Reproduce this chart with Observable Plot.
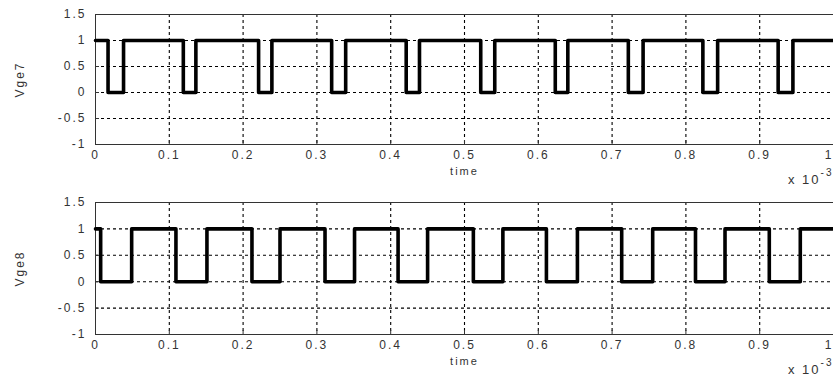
<!DOCTYPE html>
<html>
<head>
<meta charset="utf-8">
<script src="https://cdn.jsdelivr.net/npm/d3@7"></script>
<script src="https://cdn.jsdelivr.net/npm/@observablehq/plot@0.6"></script>
<style>
  html, body { margin: 0; padding: 0; background: #fff; }
  #wrap { width: 833px; height: 377px; overflow: hidden; }
  svg { display: block; }
</style>
</head>
<body>
<div id="wrap"></div>
<script>
// Transition times (x 10^-3 s) and levels for each gate signal
const t7 = [0, 0.017, 0.038, 0.119, 0.136, 0.221, 0.239, 0.320, 0.339, 0.421, 0.439, 0.522, 0.541, 0.623, 0.640, 0.722, 0.742, 0.823, 0.843, 0.925, 0.945, 1];
const v7 = [1, 0, 1, 0, 1, 0, 1, 0, 1, 0, 1, 0, 1, 0, 1, 0, 1, 0, 1, 0, 1, 1];
const t8 = [0, 0.007, 0.049, 0.109, 0.151, 0.212, 0.250, 0.311, 0.351, 0.410, 0.450, 0.512, 0.552, 0.611, 0.653, 0.713, 0.755, 0.813, 0.853, 0.913, 0.955, 1];
const v8 = [1, 0, 1, 0, 1, 0, 1, 0, 1, 0, 1, 0, 1, 0, 1, 0, 1, 0, 1, 0, 1, 1];

const xTicks = [0, 0.1, 0.2, 0.3, 0.4, 0.5, 0.6, 0.7, 0.8, 0.9];
const xLastTick = [1];
const xGrid = [0.1, 0.2, 0.3, 0.4, 0.5, 0.6, 0.7, 0.8, 0.9];
const yTicks = [-1, -0.5, 0, 0.5, 1, 1.5];
const yGrid = [-0.5, 0, 0.5, 1];
const xLabel = "time";
const expLabel = "x 10";
const expPower = "-3";
const panels = [
  {name: "Vge7", t: t7, v: v7, height: 188, marginBottom: 44},
  {name: "Vge8", t: t8, v: v8, height: 189, marginBottom: 43}
];

const font = "'Liberation Sans', Arial, sans-serif";
const fmt = d => String(d);
const wrap = document.getElementById("wrap");

for (const p of panels) {
  const data = p.t.map((t, i) => ({t, v: p.v[i]}));
  const chart = Plot.plot({
    width: 833,
    height: p.height,
    marginLeft: 95,
    marginRight: 0,
    marginTop: 14,
    marginBottom: p.marginBottom,
    style: {fontFamily: font, fontSize: "11px", color: "#333", letterSpacing: "2px", background: "#fff"},
    x: {domain: [0, 1]},
    y: {domain: [-1, 1.5]},
    marks: [
      Plot.gridX(xGrid, {stroke: "#000", strokeOpacity: 1, strokeDasharray: "3,3", strokeWidth: 1.1}),
      Plot.gridY(yGrid, {stroke: "#000", strokeOpacity: 1, strokeDasharray: "3,3", strokeWidth: 1.1}),
      Plot.axisX({ticks: xTicks, tickFormat: fmt, tickSize: -4, tickPadding: 10, label: null, stroke: "#333", fill: "#333", fontSize: 12}),
      Plot.axisX({ticks: xLastTick, tickFormat: fmt, tickSize: 0, tickPadding: 6, textAnchor: "end", label: null, fill: "#333", fontSize: 12}),
      Plot.axisY({ticks: yTicks, tickFormat: fmt, tickSize: -4, tickPadding: 13, label: null, stroke: "#333", fill: "#333", fontSize: 12}),
      Plot.frame({stroke: "#333", strokeWidth: 1}),
      Plot.line(data, {x: "t", y: "v", curve: "step-after", stroke: "#000", strokeWidth: 3.6}),
      Plot.text([xLabel], {frameAnchor: "bottom", lineAnchor: "top", dy: 23, text: d => d, fill: "#333", fontSize: 11}),
      Plot.text([expLabel], {frameAnchor: "bottom-right", textAnchor: "end", lineAnchor: "middle", dx: -13, dy: 35, text: d => d, fill: "#333", fontSize: 13}),
      Plot.text([expPower], {frameAnchor: "bottom-right", textAnchor: "end", lineAnchor: "middle", dx: 0, dy: 28, text: d => d, fill: "#333", fontSize: 10}),
      Plot.text([p.name], {frameAnchor: "left", rotate: -90, lineAnchor: "middle", textAnchor: "middle", dx: -75, text: d => d, fill: "#333", fontSize: 12})
    ]
  });
  wrap.appendChild(chart);
}
</script>
</body>
</html>
